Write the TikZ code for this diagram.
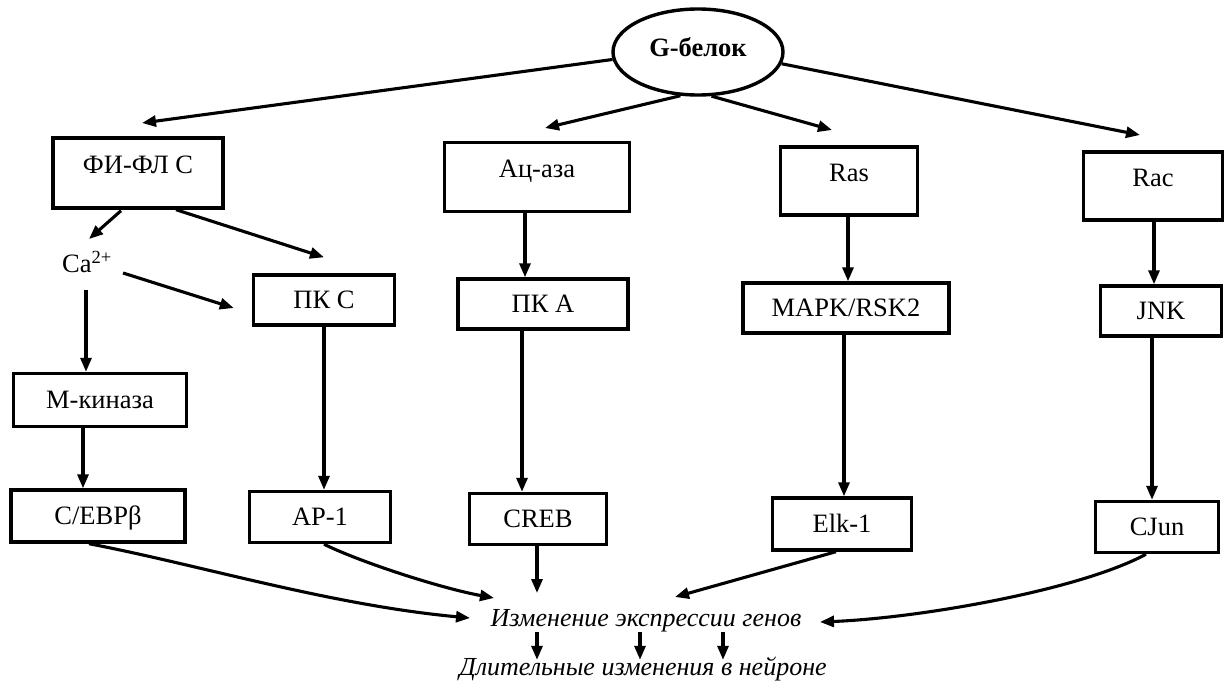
\documentclass[tikz,border=0pt]{standalone}
\usepackage{fontspec}
\setmainfont{Liberation Serif}
\usetikzlibrary{arrows.meta,shapes.geometric,calc}
\begin{document}
\begin{tikzpicture}[x=1pt,y=-1pt,
  lw/.style={line width=3.4pt},
  alw/.style={line width=3.1pt},
  lab/.style={font=\fontsize{26.5}{30}\selectfont},
  box/.style={draw,lw,lab,inner sep=0pt,text height=23pt,text depth=6pt},
  topbox/.style={draw,lw,lab,inner sep=0pt,text height=19pt,text depth=19pt},
  arr/.style={alw,-{Triangle[length=14pt,width=11pt]}},
  outtext/.style={font=\fontsize{26}{30}\selectfont\itshape,inner sep=0pt,text height=18pt,text depth=6pt}]
\useasboundingbox (0,0) rectangle (1232,696);

% nodes
\node[ellipse,draw,lw,minimum width=170pt,minimum height=86pt,inner sep=0pt,
      font=\fontsize{26.5}{30}\selectfont\bfseries,text height=19pt,text depth=10pt] (G) at (698,52) {G-белок};

\node[topbox,minimum width=170pt,minimum height=70pt] (fifl)  at (138,173) {ФИ-ФЛ С};
\node[topbox,minimum width=185pt,minimum height=69pt] (acaza) at (537,177) {Ац-аза};
\node[topbox,minimum width=137pt,minimum height=68pt] (ras)   at (849,181) {Ras};
\node[topbox,minimum width=139pt,minimum height=68pt] (rac)   at (1153,186) {Rac};

\node[lab,inner sep=0pt] (ca) at (87,262) {Ca\textsuperscript{2+}};
\node[box,minimum width=141pt,minimum height=50pt] (pkc)  at (324,300) {ПК С};
\node[box,minimum width=170pt,minimum height=50pt] (pka)  at (543,304) {ПК А};
\node[box,minimum width=206pt,minimum height=50pt] (mapk) at (846,308) {MAPK/RSK2};
\node[box,minimum width=121pt,minimum height=50pt] (jnk)  at (1161,311) {JNK};
\node[box,minimum width=173pt,minimum height=53pt] (mk)   at (100,400) {М-киназа};

\node[box,minimum width=174pt,minimum height=52pt] (cebp) at (98,516) {C/EBPβ};
\node[box,minimum width=141pt,minimum height=51pt] (ap1)  at (320,517) {AP-1};
\node[box,minimum width=137pt,minimum height=51pt] (creb) at (538,519) {CREB};
\node[box,minimum width=139pt,minimum height=52pt] (elk)  at (842,524) {Elk-1};
\node[box,minimum width=123pt,minimum height=51pt] (cjun) at (1157,527) {CJun};

\node[outtext] (expr) at (646,620) {Изменение экспрессии генов};
\node[outtext] (long) at (643,669) {Длительные изменения в нейроне};

% free arrow ends and columns
\coordinate (tF) at (142,123);
\coordinate (tA) at (545,128);
\coordinate (tR) at (832,130);
\coordinate (tQ) at (1140,135);
\coordinate (tCa) at (89,239);
\coordinate (sCa) at (86,290);
\coordinate (xM) at (83,0);
\coordinate (xA1) at (525,0);
\coordinate (xA2) at (522,0);
\coordinate (xR1) at (848,0);
\coordinate (xR2) at (844,0);
\coordinate (xJ1) at (1154,0);
\coordinate (xJ2) at (1152,0);
\coordinate (tE1) at (470,618);
\coordinate (tE2) at (494,598);
\coordinate (tE3) at (537,593);
\coordinate (tE4) at (675,597);
\coordinate (tE5) at (820,622);
\coordinate (b1) at (537,0);
\coordinate (b2) at (640,0);
\coordinate (b3) at (723,0);

% G-protein branches
\draw[arr] (G.185) -- (tF);
\draw[arr] (G.248) -- (tA);
\draw[arr] (G.287) -- (tR);
\draw[arr] (G.352) -- (tQ);

% PI-PLC branch
\draw[arr] ($(fifl.south)+(-17,1)$) -- (tCa);
\draw[arr] ($(fifl.south)+(38,0)$) -- ($(pkc.north)+(0,-16)$);
\draw[arr] ($(ca.east)+(11,11)$) -- ($(pkc.west)+(-18,8)$);
\draw[arr] (sCa) -- (sCa |- mk.north);
\draw[arr] (mk.south -| xM) -- (cebp.north -| xM);
\draw[arr] (pkc.south) -- (pkc.south |- ap1.north);

% adenylate cyclase branch
\draw[arr] (acaza.south -| xA1) -- (pka.north -| xA1);
\draw[arr] (pka.south -| xA2) -- (creb.north -| xA2);

% Ras branch
\draw[arr] (ras.south -| xR1) -- (mapk.north -| xR1);
\draw[arr] (mapk.south -| xR2) -- (elk.north -| xR2);

% Rac branch
\draw[arr] (rac.south -| xJ1) -- (jnk.north -| xJ1);
\draw[arr] (jnk.south -| xJ2) -- (cjun.north -| xJ2);

% to gene expression
\draw[arr] ($(cebp.south)+(-9,0)$) .. controls (200,565) and (330,605) .. (tE1);
\draw[arr] ($(ap1.south)+(4,0)$) .. controls (360,562) and (440,588) .. (tE2);
\draw[arr] (creb.south -| tE3) -- (tE3);
\draw[arr] ($(elk.south)+(-6,0)$) -- (tE4);
\draw[arr] ($(cjun.south)+(-11,0)$) .. controls (1080,590) and (920,618) .. (tE5);

% to long-term changes
\draw[arr] (b1 |- expr.south) -- ($(b1 |- long.north)+(0,3)$);
\draw[arr] (b2 |- expr.south) -- ($(b2 |- long.north)+(0,3)$);
\draw[arr] (b3 |- expr.south) -- ($(b3 |- long.north)+(0,3)$);
\end{tikzpicture}
\end{document}
